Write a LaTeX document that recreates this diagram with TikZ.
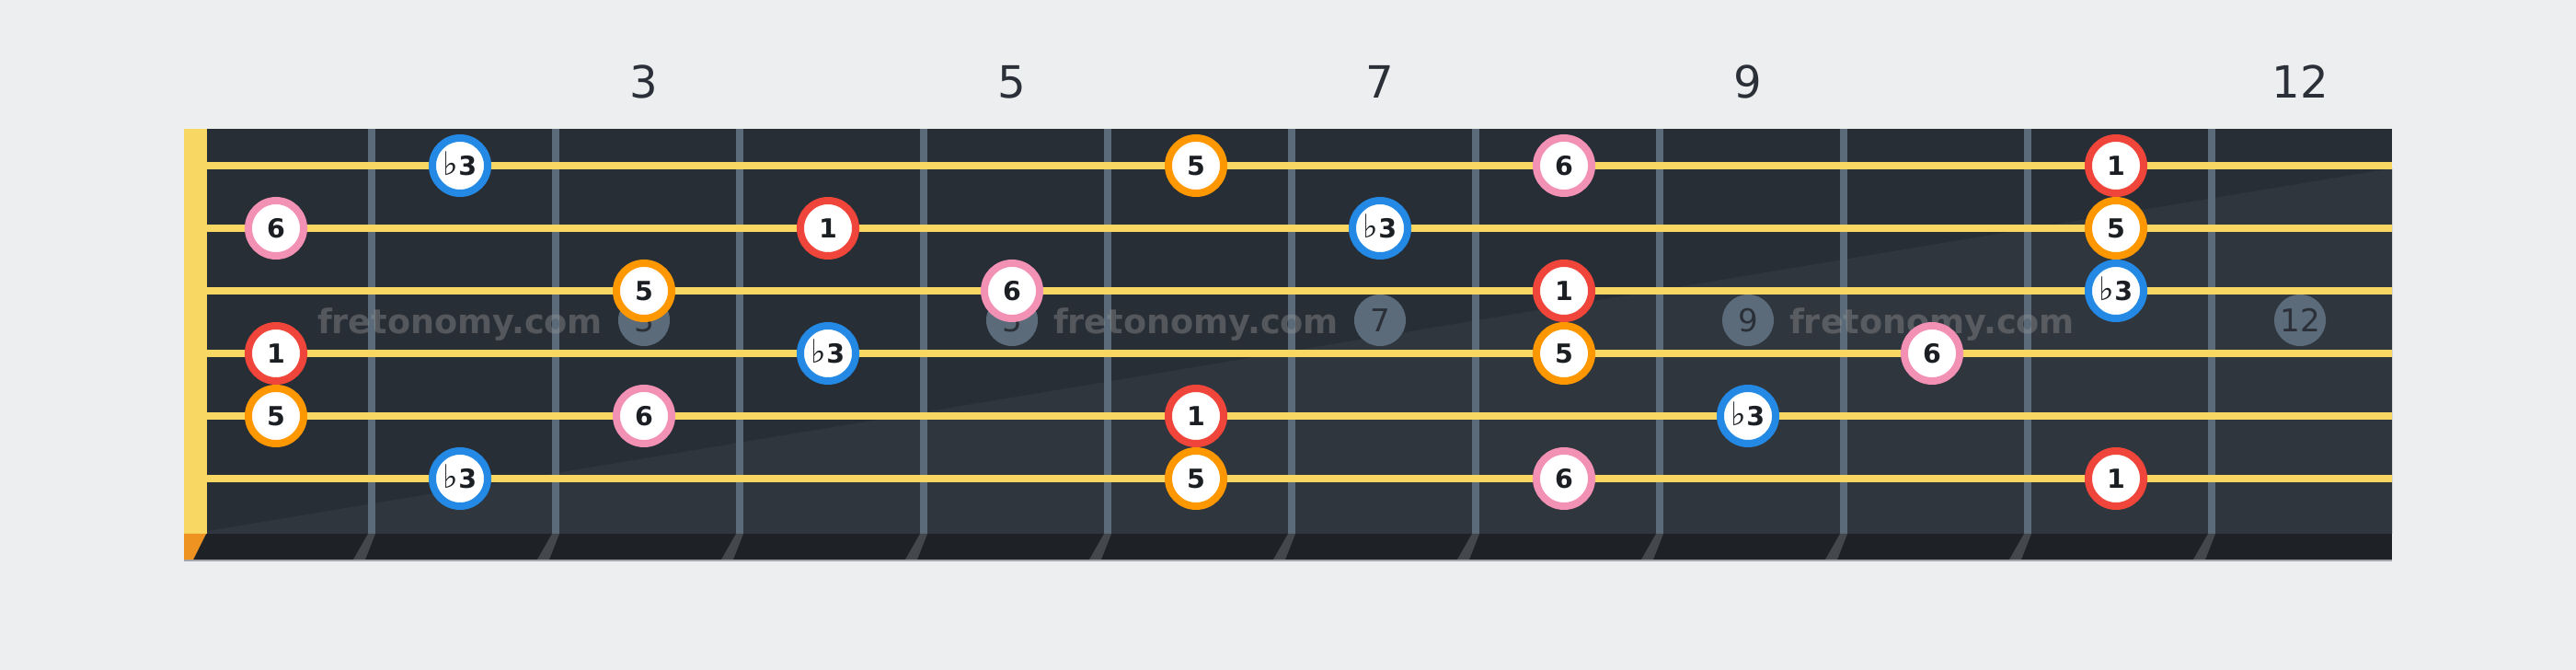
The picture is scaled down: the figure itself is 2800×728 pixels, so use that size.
\documentclass[tikz,border=0pt]{standalone}
\usepackage{fontspec}
\setmainfont{DejaVu Sans}

\definecolor{pagebg}{HTML}{EDEEF0}
\definecolor{boardtop}{HTML}{282E36}
\definecolor{boardlow}{HTML}{30363E}
\definecolor{boardfoot}{HTML}{1E2226}
\definecolor{footline}{HTML}{A3A7AB}
\definecolor{fretgrey}{HTML}{5B6B7A}
\definecolor{fretfoot}{HTML}{44484D}
\definecolor{stringyellow}{HTML}{F8D862}
\definecolor{nutorange}{HTML}{EE9321}
\definecolor{inkdark}{HTML}{2B3038}
\definecolor{notetext}{HTML}{1B1F24}
\definecolor{wmgrey}{HTML}{969696}
\definecolor{rootred}{HTML}{F0453A}
\definecolor{fifthorange}{HTML}{FF9800}
\definecolor{thirdblue}{HTML}{2389E4}
\definecolor{sixthpink}{HTML}{F391B5}

\newcommand{\flatthree}{\smash{\mdseries\fontsize{10}{10}\selectfont ♭}3}

\begin{document}
\begin{tikzpicture}[
    x=0.01cm, y=-0.01cm,
    note/.style={
        circle,
        draw,
        fill=white,
        line width=0.08cm,
        minimum size=0.6cm,
        inner sep=0pt,
        text=notetext,
        font=\fontsize{8.1}{8.1}\selectfont\bfseries
    },
    root/.style={note, draw=rootred},
    fifth/.style={note, draw=fifthorange},
    flatthird/.style={note, draw=thirdblue},
    sixth/.style={note, draw=sixthpink},
    inlay/.style={
        circle,
        fill=fretgrey,
        minimum size=0.56cm,
        inner sep=0pt,
        text=inkdark,
        font=\fontsize{9.7}{9.7}\selectfont
    },
    fretno/.style={
        text=inkdark,
        anchor=base,
        font=\fontsize{13.7}{13.7}\selectfont
    },
    watermark/.style={
        text=wmgrey,
        text opacity=0.4,
        anchor=base,
        inner sep=0pt,
        font=\fontsize{10.4}{10.4}\selectfont\bfseries
    },
    wire/.style={fill=fretgrey},
    wirefoot/.style={fill=fretfoot},
    gstring/.style={draw=stringyellow, line width=0.08cm}
]
    \fill[pagebg] (0,0) rectangle (2800,728);
    \useasboundingbox (0,0) rectangle (2800,728);

    % board
    \fill[boardtop] (200,140) rectangle (2600,580);
    \fill[boardlow] (225,577) -- (2600,183) -- (2600,580) -- (225,580) -- cycle;
    \fill[boardfoot] (200,580) rectangle (2600,608);
    \fill[footline] (200,608) rectangle (2600,610);

    % frets
    \foreach \k in {1,...,11} {
        \fill[wire] (200+200*\k,140) rectangle (208+200*\k,580);
        \fill[wirefoot] (200+200*\k,580) -- (208+200*\k,580) -- (197+200*\k,608) -- (184+200*\k,608) -- cycle;
    }

    % nut
    \fill[stringyellow] (200,140) rectangle (225,580);
    \fill[nutorange] (200,580) -- (224,580) -- (210,608) -- (200,608) -- cycle;

    % strings
    \foreach \y in {180,248,316,384,452,520} {
        \draw[gstring] (225,\y) -- (2600,\y);
    }

    % fret numbers
    \node (f3) [fretno] at (700,107) {3};
    \node (f5) [fretno] at (1100,107) {5};
    \node (f7) [fretno] at (1500,107) {7};
    \node (f9) [fretno] at (1900,107) {9};
    \node (f12) [fretno] at (2500,107) {12};

    % inlays
    \node (i3) [inlay] at (700,348) {3};
    \node (i5) [inlay] at (1100,348) {5};
    \node (i7) [inlay] at (1500,348) {7};
    \node (i9) [inlay] at (1900,348) {9};
    \node (i12) [inlay] at (2500,348) {12};

    \node (wm1) [watermark] at (500,363) {fretonomy.com};
    \node (wm2) [watermark] at (1300,363) {fretonomy.com};
    \node (wm3) [watermark] at (2100,363) {fretonomy.com};

    % string 1
    \node (s1f2) [flatthird] at (500,180) {\flatthree};
    \node (s1f6) [fifth] at (1300,180) {5};
    \node (s1f8) [sixth] at (1700,180) {6};
    \node (s1f11) [root] at (2300,180) {1};
    % string 2
    \node (s2f1) [sixth] at (300,248) {6};
    \node (s2f4) [root] at (900,248) {1};
    \node (s2f7) [flatthird] at (1500,248) {\flatthree};
    \node (s2f11) [fifth] at (2300,248) {5};
    % string 3
    \node (s3f3) [fifth] at (700,316) {5};
    \node (s3f5) [sixth] at (1100,316) {6};
    \node (s3f8) [root] at (1700,316) {1};
    \node (s3f11) [flatthird] at (2300,316) {\flatthree};
    % string 4
    \node (s4f1) [root] at (300,384) {1};
    \node (s4f4) [flatthird] at (900,384) {\flatthree};
    \node (s4f8) [fifth] at (1700,384) {5};
    \node (s4f10) [sixth] at (2100,384) {6};
    % string 5
    \node (s5f1) [fifth] at (300,452) {5};
    \node (s5f3) [sixth] at (700,452) {6};
    \node (s5f6) [root] at (1300,452) {1};
    \node (s5f9) [flatthird] at (1900,452) {\flatthree};
    % string 6
    \node (s6f2) [flatthird] at (500,520) {\flatthree};
    \node (s6f6) [fifth] at (1300,520) {5};
    \node (s6f8) [sixth] at (1700,520) {6};
    \node (s6f11) [root] at (2300,520) {1};
\end{tikzpicture}
\end{document}
